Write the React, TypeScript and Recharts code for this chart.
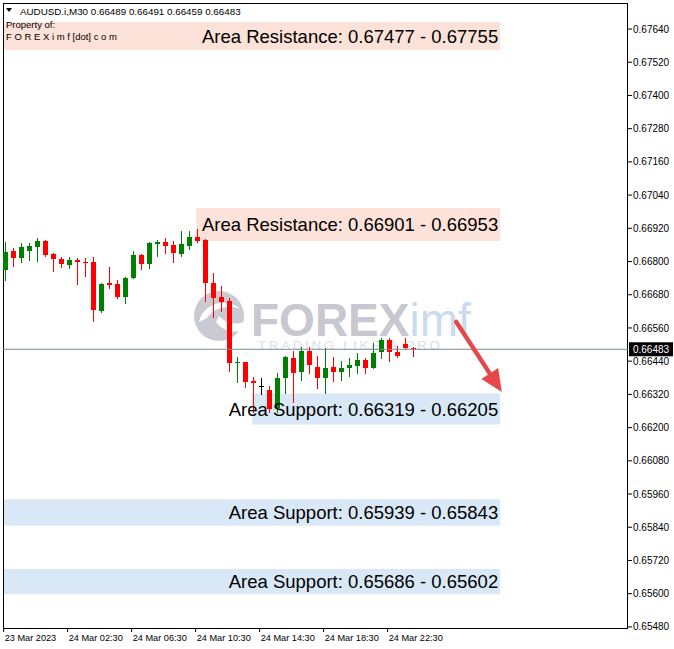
import React from 'react';
import { ComposedChart, Bar, XAxis, YAxis, ReferenceArea, ReferenceLine } from 'recharts';

const FONT = '"Liberation Sans", Arial, sans-serif';

const OPEN = [0.6677, 0.66838, 0.66813, 0.66838, 0.66853, 0.66874, 0.66827, 0.66809, 0.66788, 0.66806, 0.66798, 0.66798, 0.66621, 0.66723, 0.66719, 0.66672, 0.66741, 0.66824, 0.66791, 0.66863, 0.66871, 0.6686, 0.66827, 0.66856, 0.66889, 0.66878, 0.66723, 0.66672, 0.66658, 0.66434, 0.66437, 0.66369, 0.6635, 0.66336, 0.66271, 0.66379, 0.66452, 0.66401, 0.66477, 0.66419, 0.66379, 0.66419, 0.66401, 0.66416, 0.66423, 0.66444, 0.66416, 0.66473, 0.66517, 0.66473, 0.66502, 0.66489];
const HIGH = [0.66871, 0.66849, 0.66867, 0.66867, 0.66885, 0.66876, 0.66831, 0.66816, 0.66816, 0.66813, 0.66813, 0.66816, 0.66721, 0.6678, 0.66733, 0.66744, 0.66838, 0.66826, 0.66869, 0.66878, 0.66885, 0.66874, 0.6691, 0.6691, 0.66918, 0.66882, 0.66759, 0.66712, 0.66668, 0.66455, 0.66438, 0.66383, 0.66379, 0.6635, 0.66398, 0.66458, 0.66477, 0.66491, 0.66491, 0.66459, 0.66488, 0.66455, 0.66441, 0.66452, 0.6647, 0.66452, 0.66506, 0.66524, 0.66524, 0.66495, 0.66524, 0.66491];
const LOW = [0.66733, 0.66784, 0.66798, 0.66806, 0.66802, 0.6682, 0.66766, 0.6678, 0.66777, 0.66719, 0.66748, 0.66585, 0.66618, 0.66705, 0.66668, 0.6665, 0.66739, 0.66773, 0.66777, 0.6682, 0.66831, 0.66798, 0.6682, 0.66845, 0.66871, 0.66658, 0.666, 0.66621, 0.66405, 0.66365, 0.66347, 0.66257, 0.66322, 0.66257, 0.66257, 0.66325, 0.66293, 0.66372, 0.66398, 0.66343, 0.66325, 0.66369, 0.66372, 0.66387, 0.66398, 0.66398, 0.66414, 0.66452, 0.66441, 0.66455, 0.66486, 0.66459];
const CLOSE = [0.66835, 0.66813, 0.66853, 0.66856, 0.66874, 0.66824, 0.66809, 0.66791, 0.66806, 0.66798, 0.66795, 0.66625, 0.66719, 0.66715, 0.66672, 0.66741, 0.66824, 0.66791, 0.66867, 0.66871, 0.66856, 0.66831, 0.66863, 0.66889, 0.66874, 0.66723, 0.66668, 0.66654, 0.66434, 0.66437, 0.66365, 0.66361, 0.6635, 0.66267, 0.66379, 0.66455, 0.66398, 0.66477, 0.66426, 0.66379, 0.66416, 0.66401, 0.66416, 0.66426, 0.66444, 0.66416, 0.6647, 0.66517, 0.66473, 0.66459, 0.66488, 0.66483];

const X_TICK_LABELS = ['23 Mar 2023', '24 Mar 02:30', '24 Mar 06:30', '24 Mar 10:30', '24 Mar 14:30', '24 Mar 18:30', '24 Mar 22:30'];
const X_TICK_POS = [-0.17, 7.83, 15.83, 23.83, 31.83, 39.83, 47.83];
const X_MIN = -0.25;
const X_MAX = 77.875;

const Y_TICKS = [0.6548, 0.656, 0.6572, 0.6584, 0.6596, 0.6608, 0.662, 0.6632, 0.6644, 0.6656, 0.6668, 0.668, 0.6692, 0.6704, 0.6716, 0.6728, 0.674, 0.6752, 0.6764];
const Y_MIN = 0.65476;
const Y_MAX = 0.67734;

const ZONE_LABELS = [
  'Area Resistance: 0.67477 - 0.67755',
  'Area Resistance: 0.66901 - 0.66953',
  'Area Support: 0.66319 - 0.66205',
  'Area Support: 0.65939 - 0.65843',
  'Area Support: 0.65686 - 0.65602',
];
const ZONE_TOP = [0.67665, 0.66993, 0.66323, 0.65941, 0.65689];
const ZONE_BOTTOM = [0.67564, 0.66874, 0.66211, 0.65845, 0.65598];
const ZONE_START = [X_MIN, 23.9, 30.9, X_MIN, X_MIN];
const ZONE_END = 61.9;
const ZONE_KIND = ['res', 'res', 'sup', 'sup', 'sup'];

const LAST_PRICE = 0.66483;
const ARROW_FROM = { x: 56.4, y: 0.66582 };
const ARROW_TO = { x: 62.1, y: 0.66329 };

const GREEN = '#008000';
const RED = '#ff0000';
const RES_FILL = '#fce2d8';
const SUP_FILL = '#d8e8f7';

const data = OPEN.map((o, i) => ({ i, open: o, high: HIGH[i], low: LOW[i], close: CLOSE[i] }));

const Candle = (props: any) => {
  const { x, y, width, height, payload } = props;
  if (x == null || y == null) return null;
  const { open, close, high, low } = payload;
  const top = Math.min(y, y + height);
  const h = Math.abs(height);
  const range = high - low;
  const pix = (v: number) => (range === 0 ? top : top + ((high - v) / range) * h);
  const cx = Math.round(x + width / 2);
  const color = close > open ? GREEN : close < open ? RED : '#000';
  const bt = Math.round(pix(Math.max(open, close)));
  const bb = Math.round(pix(Math.min(open, close)));
  return (
    <g>
      <line x1={cx + 0.5} x2={cx + 0.5} y1={Math.round(top)} y2={Math.round(top + h) + 1} stroke={color} strokeWidth={1} />
      <rect x={cx - 2} y={bt} width={5} height={Math.max(1, bb - bt)} fill={color} />
    </g>
  );
};

const XTick = (props: any) => {
  const { x, y, payload } = props;
  const idx = X_TICK_POS.indexOf(payload.value);
  return (
    <text x={x + 1} y={y} dy="0.71em" fontSize={9.2} fontFamily={FONT} fill="#000" textAnchor="start">
      {X_TICK_LABELS[idx] ?? ''}
    </text>
  );
};

const PriceTag = (props: any) => {
  const vb = props.viewBox || {};
  const x0 = (vb.x ?? 0) + (vb.width ?? 0) + 1;
  const yc = vb.y ?? 0;
  return (
    <g>
      <rect x={x0} y={yc - 7} width={44} height={14} fill="#000" />
      <text x={x0 + 22} y={yc} dy="0.35em" fontSize={10} fontFamily={FONT} fill="#fff" textAnchor="middle">
        {LAST_PRICE.toFixed(5)}
      </text>
    </g>
  );
};

const ArrowShape = (props: any) => {
  const { x1, y1, x2, y2 } = props;
  if ([x1, y1, x2, y2].some((v) => v == null || isNaN(v))) return null;
  const dx = x2 - x1;
  const dy = y2 - y1;
  const len = Math.sqrt(dx * dx + dy * dy) || 1;
  const ux = dx / len;
  const uy = dy / len;
  const headLen = 22;
  const half = 10;
  const bx = x2 - ux * headLen;
  const by = y2 - uy * headLen;
  const nx = -uy;
  const ny = ux;
  return (
    <g>
      <line x1={x1} y1={y1} x2={bx + ux * 2} y2={by + uy * 2} stroke="#e5474a" strokeWidth={4.5} strokeLinecap="round" />
      <polygon points={`${x2},${y2} ${bx + nx * half},${by + ny * half} ${bx - nx * half},${by - ny * half}`} fill="#e5474a" />
    </g>
  );
};

const FrameShape = (props: any) => {
  const { x, y, width, height } = props;
  return <rect x={x + 0.5} y={y + 0.5} width={width - 1} height={height} fill="none" stroke="#000" strokeWidth={1} />;
};

const Watermark = () => (
  <svg width={674} height={649} style={{ position: 'absolute', left: 0, top: 0 }}>
    <circle cx={219} cy={316} r={25} fill="#c9cad2" />
    <path d="M 199 322 C 203 303, 226 297, 241 309 C 230 305, 214 307, 207 318 Z" fill="#ffffff" />
    <path d="M 219 316 C 224 322, 234 326, 243 322 L 243 330 C 233 334, 222 330, 216 322 Z" fill="#ffffff" />
    <text x={251} y={336} fontSize={46} fontFamily={FONT}>
      <tspan fontWeight="bold" fill="#c7c8d0">FOREX</tspan>
      <tspan fill="#c9dcef">imf</tspan>
    </text>
    <text x={258} y={350} fontSize={13.5} fontFamily={FONT} fill="#dcdde3" textLength={182} lengthAdjust="spacing">TRADING LIKE A PRO</text>
  </svg>
);

const Header = () => (
  <svg width={674} height={649} style={{ position: 'absolute', left: 0, top: 0, pointerEvents: 'none' }}>
    <polygon points="6,8 12,8 9,12" fill="#000" />
    <text x={20} y={14.5} fontSize={9.8} fontFamily={FONT} fill="#000">AUDUSD.i,M30 0.66489 0.66491 0.66459 0.66483</text>
    <text x={6} y={28} fontSize={9.5} fontFamily={FONT} fill="#000">Property of:</text>
    <text x={6} y={40} fontSize={9.5} fontFamily={FONT} fill="#000">F O R E X i m f [dot] c o m</text>
  </svg>
);

export default function App() {
  return (
    <div style={{ position: 'absolute', left: 0, top: 0, width: 674, height: 649, background: '#fff', fontFamily: FONT }}>
      <Watermark />
      <div style={{ position: 'absolute', left: 0, top: 0 }}>
        <ComposedChart width={674} height={649} data={data} margin={{ top: 3, right: 0, bottom: 0, left: 3 }}>
          <XAxis
            dataKey="i"
            type="number"
            domain={[X_MIN, X_MAX]}
            ticks={X_TICK_POS}
            interval={0}
            allowDataOverflow
            axisLine={false}
            tickLine={{ stroke: '#000' }}
            tickSize={4}
            tickMargin={2}
            height={21}
            tick={<XTick />}
          />
          <YAxis
            orientation="right"
            type="number"
            domain={[Y_MIN, Y_MAX]}
            ticks={Y_TICKS}
            interval={0}
            allowDataOverflow
            width={46}
            axisLine={false}
            tickLine={{ stroke: '#000' }}
            tickSize={4}
            tickMargin={1}
            tick={{ fontSize: 10, fill: '#000', fontFamily: FONT }}
            tickFormatter={(v: number) => v.toFixed(5)}
          />
          {ZONE_LABELS.map((lab, k) => (
            <ReferenceArea
              key={k}
              x1={ZONE_START[k]}
              x2={ZONE_END}
              y1={ZONE_BOTTOM[k]}
              y2={ZONE_TOP[k]}
              fill={ZONE_KIND[k] === 'res' ? RES_FILL : SUP_FILL}
              fillOpacity={1}
              stroke="none"
              ifOverflow="visible"
              label={{ value: lab, position: 'insideRight', offset: 2, fontSize: 18.5, fill: '#000', fontFamily: FONT }}
            />
          ))}
          <Bar dataKey={(d: any) => [d.low, d.high]} barSize={5} shape={Candle} isAnimationActive={false} />
          <ReferenceLine y={LAST_PRICE} stroke="#7b8896" strokeWidth={1} ifOverflow="visible" label={PriceTag} />
          <ReferenceLine segment={[ARROW_FROM, ARROW_TO]} ifOverflow="visible" shape={ArrowShape} />
          <ReferenceArea x1={X_MIN} x2={X_MAX} y1={Y_MIN} y2={Y_MAX} ifOverflow="visible" shape={FrameShape} />
        </ComposedChart>
      </div>
      <Header />
    </div>
  );
}
